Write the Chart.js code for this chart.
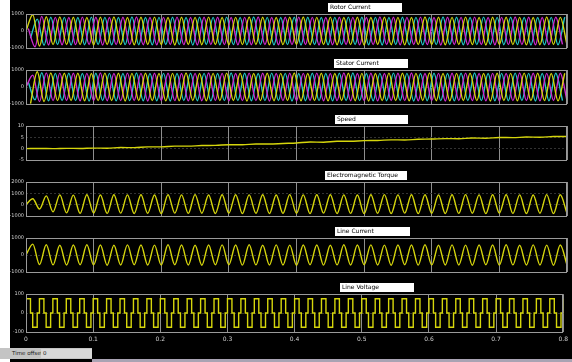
<!DOCTYPE html>
<html>
<head>
<meta charset="utf-8">
<script src="https://cdn.jsdelivr.net/npm/chart.js@4"></script>
<style>
  body { margin: 0; background: #fff; width: 572px; height: 362px; overflow: hidden; position: relative; font-family: "DejaVu Sans", sans-serif; }
  #scope { position: absolute; left: 10px; top: 0; width: 562px; height: 362px; background: #000; }
  canvas { position: absolute; left: 10px; }
  #status { position: absolute; left: 0; top: 348px; width: 92px; height: 11px; background: #c4c4c4; font-size: 5.5px; color: #222; }
  #status span { position: absolute; left: 12px; top: 2px; }
  #status div { position: absolute; left: 41px; top: 1px; width: 51px; height: 9px; background: #d8d8d8; font-size: 5.5px; line-height: 9px; padding-left: 2px; box-sizing: border-box; }
  #bottomline { position: absolute; left: 92px; top: 359px; width: 480px; height: 3px; background: #a9a3b3; }
</style>
</head>
<body>
<div id="scope"></div>
<canvas id="p1" width="562" height="52"></canvas>
<canvas id="p2" width="562" height="52"></canvas>
<canvas id="p3" width="562" height="52"></canvas>
<canvas id="p4" width="562" height="52"></canvas>
<canvas id="p5" width="562" height="52"></canvas>
<canvas id="p6" width="562" height="65"></canvas>
<div id="status"><span>Time offset:</span><div>0</div></div>
<div id="bottomline"></div>
<script>
// time grid: one sample every 1/300 s, 0 .. 0.8 s
var sampleStep = 1 / 300;
var slotCount = 241;
var xTicks = [0, 0.1, 0.2, 0.3, 0.4, 0.5, 0.6, 0.7, 0.8];

// rotor current, peak values of each phase
var rotorYellow = [
  0, 960, -880, 840, -800, 820, -790, 810, -800, 790,
  -815, 805, -795, 820, -800, 790, -810, 805, -790, 815,
  -800, 795, -820, 810, -790, 800, -805, 815, -795, 790,
  -810, 800, -800, 820, -790, 805, -815, 795, -800, 810,
  -790, 820, -805, 800, -795, 815, -810, 790, -800, 805,
  -820, 795, -790, 810, -805, 800, -815, 790, -800, 820,
  -795, 805, -810, 800, -790, 815, -800, 795, -820, 805,
  -790, 810, -800, 800, -815, 795, -805, 820, -790, 800,
  -810];
var rotorMagenta = [
  150, -930, 860, -820, 800, -810, 795, -800, 815, -790,
  805, -820, 790, -800, 810, -795, 820, -805, 790, -810,
  800, -790, 815, -800, 795, -820, 805, -790, 810, -800,
  790, -815, 800, -805, 820, -795, 790, -810, 805, -800,
  815, -790, 800, -820, 795, -805, 810, -790, 800, -815,
  790, -800, 820, -795, 805, -810, 800, -790, 815, -800,
  795, -820, 810, -790, 800, -805, 815, -795, 790, -810,
  800, -800, 820, -790, 805, -815, 795, -800, 810, -790];
var rotorCyan = [
  -420, 700, -840, 810, -795, 800, -820, 790, -805, 815,
  -790, 800, -810, 795, -800, 820, -805, 790, -815, 800,
  -795, 810, -800, 790, -820, 805, -790, 800, -810, 815,
  -800, 795, -805, 820, -790, 800, -815, 790, -800, 810,
  -820, 805, -795, 790, -810, 800, -800, 815, -790, 805,
  -810, 800, -820, 795, -790, 810, -805, 800, -815, 790,
  -800, 820, -795, 805, -810, 790, -800, 815, -790, 800,
  -805, 810, -800, 795, -820, 790, -805, 800, -810, 815];

// stator current
var statorYellow = [
  -980, 900, -850, 820, -800, 810, -795, 805, -810, 790,
  -800, 815, -790, 805, -820, 800, -795, 810, -800, 790,
  -815, 800, -805, 820, -790, 795, -810, 800, -800, 815,
  -790, 805, -820, 790, -800, 810, -805, 800, -795, 820,
  -810, 790, -800, 805, -815, 795, -790, 810, -805, 800,
  -820, 790, -800, 815, -795, 805, -810, 800, -790, 820,
  -805, 795, -815, 800, -790, 810, -800, 790, -820, 805,
  -795, 800, -810, 815, -790, 805, -800, 795, -815, 810];
var statorMagenta = [
  0, 700, -860, 830, -800, 815, -790, 805, -810, 800,
  -795, 820, -805, 790, -800, 815, -790, 800, -820, 805,
  -790, 810, -800, 795, -815, 800, -805, 820, -790, 800,
  -810, 790, -800, 815, -795, 805, -820, 790, -800, 810,
  -805, 800, -790, 815, -810, 795, -800, 820, -805, 790,
  -800, 810, -815, 795, -790, 805, -800, 820, -810, 790,
  -795, 800, -820, 805, -790, 815, -800, 795, -810, 800,
  -805, 790, -800, 820, -795, 810, -815, 800, -790, 805,
  -800];
var statorCyan = [
  300, -760, 840, -815, 800, -795, 810, -800, 790, -820,
  805, -790, 800, -815, 795, -800, 820, -810, 790, -805,
  800, -820, 795, -790, 810, -805, 800, -815, 790, -800,
  820, -795, 805, -810, 790, -800, 815, -790, 800, -820,
  795, -805, 810, -800, 790, -815, 805, -795, 820, -800,
  790, -810, 800, -805, 815, -790, 800, -820, 795, -805,
  810, -800, 790, -815, 805, -795, 820, -800, 790, -810,
  800, -805, 815, -790, 800, -820, 795, -810, 805, -800];

// speed, one reading every 0.02 s
var speedValues = [
  0, 0.1, 0.0, 0.15, 0.1, 0.25, 0.2, 0.5, 0.45, 0.8,
  0.8, 1.1, 1.1, 1.4, 1.45, 1.75, 1.7, 2.05, 2.05, 2.3,
  2.5, 2.95, 2.85, 3.25, 3.25, 3.55, 3.6, 3.9, 3.85, 4.15,
  4.25, 4.45, 4.4, 4.7, 4.6, 4.95, 4.85, 5.15, 5.05, 5.35,
  5.4];

// electromagnetic torque, peak values
var torqueValues = [
  0, 520, -380, 780, -640, 860, -720, 840, -760, 870,
  -740, 850, -770, 880, -750, 860, -780, 870, -760, 850,
  -790, 880, -750, 860, -770, 890, -760, 850, -780, 870,
  -750, 880, -790, 860, -760, 870, -780, 850, -770, 890,
  -760, 860, -790, 870, -750, 880, -780, 860, -770, 850,
  -790, 870, -760, 890, -780, 860, -750, 870, -790, 880,
  -760, 850, -780, 870, -770, 890, -760, 860, -790, 870,
  -750, 880, -770, 860, -780, 850, -760, 890, -790, 870,
  -770];

// line current, peak values
var lineCurrentValues = [
  0, 640, -560, 600, -580, 570, -590, 585, -575, 600,
  -580, 590, -600, 575, -585, 595, -570, 590, -590, 580,
  -595, 600, -575, 585, -590, 570, -600, 590, -580, 595,
  -570, 585, -595, 600, -580, 575, -590, 595, -585, 580,
  -600, 590, -575, 585, -595, 570, -580, 600, -590, 585,
  -575, 595, -590, 580, -600, 585, -570, 590, -595, 600,
  -580, 575, -590, 595, -585, 580, -600, 590, -575, 585,
  -595, 600, -580, 570, -590, 595, -585, 580, -600, 590,
  -580];

// line voltage, one level per sample
var lineVoltageValues = [
  75, 75, 0, -75, -75, 0, 75, 75, 0, -75, -75, 0,
  75, 75, 0, -75, -75, 0, 75, 75, 0, -75, -75, 0,
  75, 75, 0, -75, -75, 0, 75, 75, 0, -75, -75, 0,
  75, 75, 0, -75, -75, 0, 75, 75, 0, -75, -75, 0,
  75, 75, 0, -75, -75, 0, 75, 75, 0, -75, -75, 0,
  75, 75, 0, -75, -75, 0, 75, 75, 0, -75, -75, 0,
  75, 75, 0, -75, -75, 0, 75, 75, 0, -75, -75, 0,
  75, 75, 0, -75, -75, 0, 75, 75, 0, -75, -75, 0,
  75, 75, 0, -75, -75, 0, 75, 75, 0, -75, -75, 0,
  75, 75, 0, -75, -75, 0, 75, 75, 0, -75, -75, 0,
  75, 75, 0, -75, -75, 0, 75, 75, 0, -75, -75, 0,
  75, 75, 0, -75, -75, 0, 75, 75, 0, -75, -75, 0,
  75, 75, 0, -75, -75, 0, 75, 75, 0, -75, -75, 0,
  75, 75, 0, -75, -75, 0, 75, 75, 0, -75, -75, 0,
  75, 75, 0, -75, -75, 0, 75, 75, 0, -75, -75, 0,
  75, 75, 0, -75, -75, 0, 75, 75, 0, -75, -75, 0,
  75, 75, 0, -75, -75, 0, 75, 75, 0, -75, -75, 0,
  75, 75, 0, -75, -75, 0, 75, 75, 0, -75, -75, 0,
  75, 75, 0, -75, -75, 0, 75, 75, 0, -75, -75, 0,
  75, 75, 0, -75, -75, 0, 75, 75, 0, -75, -75, 0,
  75];

var YELLOW = "#d6d60c";
var MAGENTA = "#d02ad0";
var CYAN = "#22c6c6";

var timeLabels = [];
for (var i = 0; i < slotCount; i++) timeLabels.push(+(i * sampleStep).toFixed(5));

// put a list of readings on the sample grid, leaving gaps between them
function toGrid(values, offset, stride) {
  var out = new Array(slotCount).fill(null);
  values.forEach(function(v, i) {
    var k = offset + i * stride;
    if (k < slotCount) out[k] = v;
  });
  return out;
}

function wave(values, offset, stride, color) {
  return {
    data: toGrid(values, offset, stride),
    borderColor: color,
    borderWidth: 1.4,
    pointRadius: 0,
    spanGaps: true,
    cubicInterpolationMode: "monotone"
  };
}

var panelTitle = {
  id: "panelTitle",
  afterDraw: function(chart, args, opts) {
    var ctx = chart.ctx, area = chart.chartArea;
    ctx.save();
    ctx.fillStyle = "#fff";
    ctx.fillRect(opts.left - 10, area.top - 11, opts.width, 9);
    ctx.fillStyle = "#000";
    ctx.font = '6px "DejaVu Sans"';
    ctx.textBaseline = "middle";
    ctx.fillText(opts.text, opts.left - 8, area.top - 6.5);
    ctx.restore();
  }
};

var frame = {
  id: "frame",
  afterDatasetsDraw: function(chart) {
    var ctx = chart.ctx, a = chart.chartArea;
    ctx.save();
    ctx.strokeStyle = "#9a9a9a";
    ctx.lineWidth = 1;
    ctx.strokeRect(Math.round(a.left) + 0.5, Math.round(a.top) + 0.5,
      Math.round(a.right - a.left) - 1, Math.round(a.bottom - a.top));
    ctx.restore();
  }
};

var panelTops = [14, 70, 126, 182, 238, 294];

function makePanel(n, title, titleLeft, titleWidth, datasets, yMin, yMax, yStep, last) {
  var canvas = document.getElementById("p" + n);
  canvas.style.top = (panelTops[n - 1] - 13) + "px";
  new Chart(canvas.getContext("2d"), {
    type: "line",
    data: { labels: timeLabels, datasets: datasets },
    plugins: [panelTitle, frame],
    options: {
      responsive: false,
      animation: false,
      events: [],
      layout: { padding: { top: 13, right: 5, bottom: last ? 0 : 1, left: 0 } },
      plugins: {
        legend: { display: false },
        tooltip: { enabled: false },
        panelTitle: { text: title, left: titleLeft, width: titleWidth }
      },
      scales: {
        x: {
          type: "linear",
          min: 0,
          max: 0.8,
          afterBuildTicks: function(scale) {
            scale.ticks = xTicks.map(function(v) { return { value: v }; });
          },
          afterFit: function(scale) { scale.height = last ? 14 : 0; },
          grid: { color: "#8e8e8e", lineWidth: 1, drawTicks: false },
          border: { display: false },
          ticks: {
            display: last,
            color: "#d0d0d0",
            font: { size: 6, family: "DejaVu Sans" },
            padding: 4,
            maxRotation: 0,
            callback: function(v) { return String(v); }
          }
        },
        y: {
          min: yMin,
          max: yMax,
          afterFit: function(scale) { scale.width = 16; },
          grid: { color: "#333333", lineWidth: 1, drawTicks: false },
          border: { display: false, dash: [2, 2] },
          ticks: {
            stepSize: yStep,
            color: "#d0d0d0",
            font: { size: 5, family: "DejaVu Sans" },
            padding: 2,
            callback: function(v) { return String(v); }
          }
        }
      }
    }
  });
}

makePanel(1, "Rotor Current", 328, 74, [
  wave(rotorYellow, 0, 3, YELLOW),
  wave(rotorMagenta, 1, 3, MAGENTA),
  wave(rotorCyan, 2, 3, CYAN)
], -1000, 1000, 1000, false);

makePanel(2, "Stator Current", 334, 74, [
  wave(statorYellow, 2, 3, YELLOW),
  wave(statorMagenta, 0, 3, MAGENTA),
  wave(statorCyan, 1, 3, CYAN)
], -1000, 1000, 1000, false);

makePanel(3, "Speed", 335, 73, [
  wave(speedValues, 0, 6, YELLOW)
], -5, 10, 5, false);

makePanel(4, "Electromagnetic Torque", 325, 82, [
  wave(torqueValues, 0, 3, YELLOW)
], -1000, 2000, 1000, false);

makePanel(5, "Line Current", 335, 75, [
  wave(lineCurrentValues, 0, 3, YELLOW)
], -1000, 1000, 1000, false);

makePanel(6, "Line Voltage", 340, 74, [
  {
    data: toGrid(lineVoltageValues, 0, 1),
    borderColor: YELLOW,
    borderWidth: 1.4,
    pointRadius: 0,
    stepped: true
  }
], -100, 100, 100, true);
</script>
</body>
</html>
